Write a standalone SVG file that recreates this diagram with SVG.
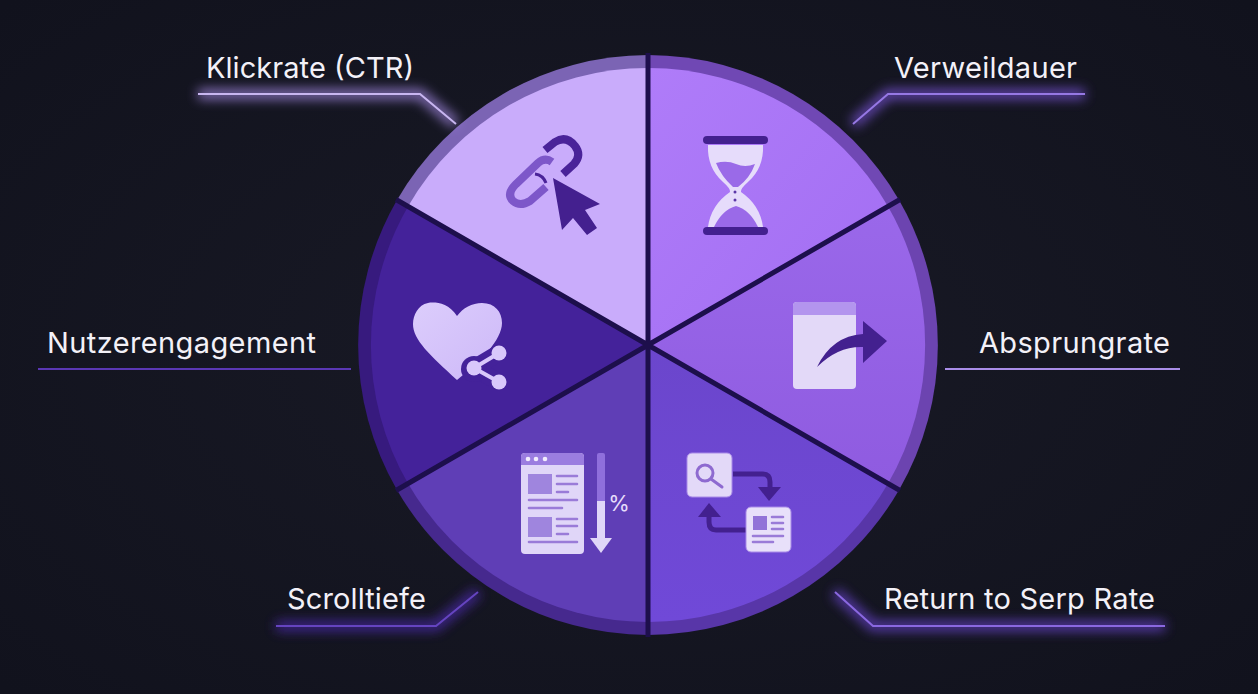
<svg xmlns="http://www.w3.org/2000/svg" width="1258" height="694" viewBox="0 0 1258 694">
<defs>
<radialGradient id="bg" cx="50%" cy="50%" r="70%"><stop offset="0" stop-color="#191a26"/><stop offset="1" stop-color="#11121d"/></radialGradient>
<linearGradient id="gTR" x1="0" y1="0" x2="1" y2="1"><stop offset="0" stop-color="#af7cf9"/><stop offset="1" stop-color="#a26df2"/></linearGradient>
<linearGradient id="gR" x1="0" y1="0" x2="0" y2="1"><stop offset="0" stop-color="#9a68ea"/><stop offset="1" stop-color="#8f5be0"/></linearGradient>
<linearGradient id="gBR" x1="0" y1="0" x2="0" y2="1"><stop offset="0" stop-color="#6b46cc"/><stop offset="1" stop-color="#7049d8"/></linearGradient>
<linearGradient id="gH" x1="0" y1="0" x2="1" y2="1"><stop offset="0" stop-color="#dccdfc"/><stop offset="1" stop-color="#cdb8f8"/></linearGradient>
<filter id="glow" x="-20%" y="-400%" width="140%" height="900%"><feGaussianBlur stdDeviation="6"/></filter>
<style>
text{font-family:Inter,"Liberation Sans",sans-serif}
.lbl{fill:#f3f1f8;font-size:29px}
.lead{fill:none;stroke-width:2}
.gl{fill:none;stroke-width:10;filter:url(#glow);opacity:.8}
.sep{stroke:#1d0f4c;stroke-width:5;stroke-linecap:butt}
.ln{stroke:#9a7bd8;stroke-width:2.600;stroke-linecap:round}
.card{stroke:#a98be8;stroke-width:1}
</style>
</defs>
<rect width="1258" height="694" fill="url(#bg)"/>
<g id="wheel">
<path d="M648 345L648 55A290 290 0 0 0 397 200Z" fill="#7b64b4"/>
<path d="M648 345L648 55A290 290 0 0 1 899 200Z" fill="#7048b4"/>
<path d="M648 345L899 200A290 290 0 0 1 899 490Z" fill="#6c44b0"/>
<path d="M648 345L899 490A290 290 0 0 1 648 635Z" fill="#5836a8"/>
<path d="M648 345L648 635A290 290 0 0 1 397 490Z" fill="#46298e"/>
<path d="M648 345L397 490A290 290 0 0 1 397 200Z" fill="#371a7e"/>
<path d="M648 345L648 68A277 277 0 0 0 408 206.500Z" fill="#c9acfb"/>
<path d="M648 345L648 68A277 277 0 0 1 888 206.500Z" fill="url(#gTR)"/>
<path d="M648 345L888 206.500A277 277 0 0 1 888 483.500Z" fill="url(#gR)"/>
<path d="M648 345L888 483.500A277 277 0 0 1 648 622Z" fill="url(#gBR)"/>
<path d="M648 345L648 622A277 277 0 0 1 408 483.500Z" fill="#5f3eb6"/>
<path d="M648 345L408 483.500A277 277 0 0 1 408 206.500Z" fill="#44229a"/>
<path class="sep" d="M648 53V637M648 345L396 199.500M648 345L900 199.500M648 345L396 490.500M648 345L900 490.500"/>
</g>
<g id="connectors">
<path class="gl" stroke="#a88ce8" d="M198 94H420L456 124"/>
<path class="lead" stroke="#c8b6f0" d="M198 94H420L456 124"/>
<path class="gl" stroke="#7c55dc" d="M1085 94H888L853 124"/>
<path class="lead" stroke="#9678e4" d="M1085 94H888L853 124"/>
<path class="gl" stroke="#4a28a8" d="M38 369H351"/>
<path class="lead" stroke="#5a37b4" d="M38 369H351"/>
<path class="gl" stroke="#8a66e0" d="M945 369H1180"/>
<path class="lead" stroke="#a98de8" d="M945 369H1180"/>
<path class="gl" stroke="#4e2cb0" d="M276 626H436L478 592"/>
<path class="lead" stroke="#6544c0" d="M276 626H436L478 592"/>
<path class="gl" stroke="#6a44d0" d="M1165 626H873L835 592"/>
<path class="lead" stroke="#8a68e0" d="M1165 626H873L835 592"/>
</g>
<g id="node-klickrate">
<text class="lbl" x="206" y="78" textLength="208">Klickrate (CTR)</text>
<path d="M545 150L555 142Q566 135 575 146Q582 155 574 164L563 174" fill="none" stroke="#4a2399" stroke-width="8"/>
<path d="M552 162Q545 157 538 163L516 184Q506 194 513 201Q520 207 530 201L546 187" fill="none" stroke="#7d57c9" stroke-width="8"/>
<path d="M535 174Q543 175 546 183" fill="none" stroke="#4a2399" stroke-width="3"/>
<path d="M553 178L600 204L585 210L597 228L587 235L573 218L562 230Z" fill="#44208f"/>
</g>
<g id="node-verweildauer">
<text class="lbl" x="894" y="78" textLength="183">Verweildauer</text>
<path d="M708 145H763Q764 168 748 182Q740 189 741 192Q760 205 763 227H708Q711 205 730 192Q731 189 723 182Q707 168 708 145Z" fill="#e6dcfb"/>
<path d="M716 163Q727 160 736 164Q745 168 755 164Q750 178 738 187H733Q721 176 716 163Z" fill="#9a6ae8"/>
<path d="M714 227Q722 210 736 206Q750 210 758 227Z" fill="#9a6ae8"/>
<rect x="703" y="136" width="65" height="8" rx="4" fill="#43208f"/>
<rect x="703" y="227" width="65" height="8" rx="4" fill="#43208f"/>
<circle cx="735" cy="192" r="1.500" fill="#5c38a8"/>
<circle cx="735" cy="200" r="1.500" fill="#5c38a8"/>
</g>
<g id="node-absprungrate">
<text class="lbl" x="979" y="353" textLength="191">Absprungrate</text>
<rect x="793" y="302" width="63" height="87" rx="4" fill="#e3d9f8"/>
<path d="M793 315V306Q793 302 797 302H852Q856 302 856 306V315Z" fill="#b395ee"/>
<path d="M817 367Q832 336 863 334V321L887 341L863 363V347Q838 346 817 367Z" fill="#43208f"/>
</g>
<g id="node-return">
<text class="lbl" x="884" y="609" textLength="271">Return to Serp Rate</text>
<rect class="card" x="687" y="453" width="45" height="44" rx="5" fill="#e3d9f8"/>
<circle cx="705" cy="473" r="8" fill="none" stroke="#8e6ad0" stroke-width="3"/>
<path d="M711 479L722 487" stroke="#8e6ad0" stroke-width="3" stroke-linecap="round"/>
<path d="M733 474H763Q770 474 770 482V490" fill="none" stroke="#43208f" stroke-width="5"/>
<path d="M758 487H781L769 501Z" fill="#43208f"/>
<path d="M746 530H716Q709 530 709 522V514" fill="none" stroke="#43208f" stroke-width="5"/>
<path d="M698 517H721L709 503Z" fill="#43208f"/>
<rect class="card" x="746" y="507" width="45" height="45" rx="5" fill="#e8e0fa"/>
<rect x="753" y="516" width="14" height="14" fill="#9273d8"/>
<path class="ln" d="M772 517H783M772 523H783M772 529H783M753 536H783M753 542H773"/>
</g>
<g id="node-scrolltiefe">
<text class="lbl" x="287" y="609" textLength="139">Scrolltiefe</text>
<rect x="521" y="453" width="63" height="101" rx="4" fill="#e0d6f8"/>
<path d="M521 465V457Q521 453 525 453H580Q584 453 584 457V465Z" fill="#9b7de0"/>
<circle cx="528" cy="459" r="2.300" fill="#f2edfd"/>
<circle cx="536" cy="459" r="2.300" fill="#f2edfd"/>
<circle cx="545" cy="459" r="2.300" fill="#f2edfd"/>
<rect x="528" y="474" width="24" height="20" fill="#9f85de"/>
<rect x="528" y="517" width="24" height="20" fill="#9f85de"/>
<path class="ln" d="M557 476H577M557 484H577M557 492H568M529 500H577M529 508H562M557 519H577M557 526H577M557 534H568M529 542H577"/>
<rect x="597" y="453" width="8" height="50" rx="2" fill="#8f6fdc"/>
<rect x="597" y="501" width="8" height="38" fill="#e0d6f8"/>
<path d="M590 538H612L601 553Z" fill="#e0d6f8"/>
<text x="619" y="511" font-size="22" text-anchor="middle" fill="#e6dcfb">%</text>
</g>
<g id="node-nutzerengagement">
<text class="lbl" x="47" y="353" textLength="269">Nutzerengagement</text>
<path d="M457 316C448 302 434 302 428 303C418 305 413 315 413 324C413 340 430 355 457 380C480 362 502 340 502 323C502 312 495 303 482 303C472 303 463 308 457 316Z" fill="url(#gH)"/>
<path d="M474 368L499 353M474 368L499 382" stroke="#44229a" stroke-width="17" stroke-linecap="round"/>
<circle cx="474" cy="369" r="13" fill="#44229a"/>
<path d="M474 368L499 353M474 368L499 382" stroke="#d9c8fb" stroke-width="4"/>
<circle cx="499" cy="353" r="7.500" fill="#d9c8fb"/>
<circle cx="474" cy="368" r="7.500" fill="#d9c8fb"/>
<circle cx="499" cy="382" r="7.500" fill="#d9c8fb"/>
</g>
</svg>
